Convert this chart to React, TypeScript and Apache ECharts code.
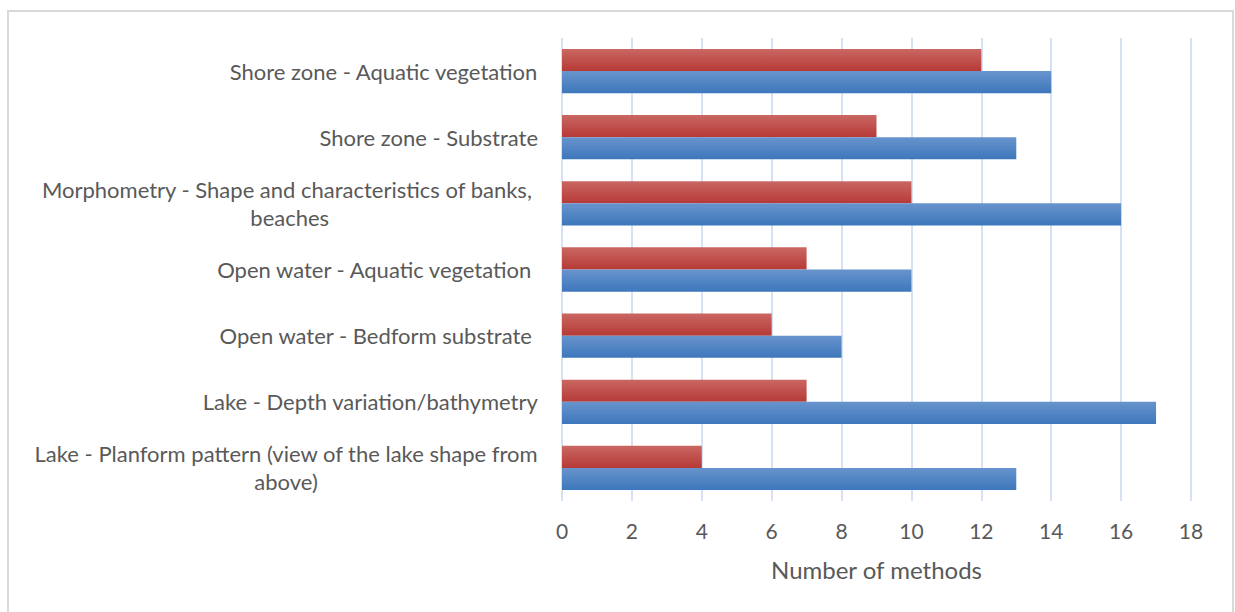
import React, { useEffect, useRef } from "react";
import * as echarts from "echarts";

const categories = [
  "Shore zone - Aquatic vegetation",
  "Shore zone - Substrate",
  "Morphometry - Shape and characteristics of banks, \nbeaches",
  "Open water - Aquatic vegetation ",
  "Open water - Bedform substrate ",
  "Lake - Depth variation/bathymetry",
  "Lake - Planform pattern (view of the lake shape from\nabove)",
];
const redValues = [12, 9, 10, 7, 6, 7, 4];
const blueValues = [14, 13, 16, 10, 8, 17, 13];
const xTicks = { min: 0, max: 18, interval: 2 };
const axisTitle = "Number of methods";

const FONT = "Lato, 'Open Sans', sans-serif";

export default function App() {
  const ref = useRef<HTMLDivElement>(null);
  useEffect(() => {
    if (!ref.current) return;
    const chart = echarts.init(ref.current, null, { renderer: "svg" });
    const grad = (a: string, b: string) =>
      new echarts.graphic.LinearGradient(0, 0, 0, 1, [
        { offset: 0, color: a },
        { offset: 1, color: b },
      ]);
    chart.setOption({
      animation: false,
      textStyle: { fontFamily: FONT },
      graphic: [
        {
          type: "rect",
          shape: { x: 8, y: 11, width: 1225, height: 640 },
          style: { fill: "none", stroke: "#d9d9d9", lineWidth: 2 },
          silent: true,
        },
      ],
      grid: { left: 562, right: 44, top: 38, bottom: 111, containLabel: false },
      xAxis: {
        type: "value",
        min: xTicks.min,
        max: xTicks.max,
        interval: xTicks.interval,
        name: axisTitle,
        nameLocation: "middle",
        nameGap: 56,
        nameTextStyle: { fontSize: 24, color: "#595959", fontFamily: FONT },
        axisLine: { show: false },
        axisTick: { show: false },
        axisLabel: { fontSize: 21, color: "#595959", margin: 19, fontFamily: FONT },
        splitLine: { show: true, lineStyle: { color: "#d6e2f3", width: 2 } },
      },
      yAxis: {
        type: "category",
        data: categories,
        inverse: true,
        axisLine: { show: false },
        axisTick: { show: false },
        axisLabel: {
          margin: 24,
          fontSize: 22,
          color: "#595959",
          fontFamily: FONT,
          lineHeight: 28,
          formatter: (v: string) =>
            v
              .split("\n")
              .map((l) => `{c|${l}}`)
              .join("\n"),
          rich: {
            c: { align: "center", fontSize: 22, color: "#595959", fontFamily: FONT, lineHeight: 28 },
          },
        },
      },
      series: [
        {
          name: "Series 2",
          type: "bar",
          data: redValues,
          barGap: "0%",
          barCategoryGap: "33%",
          itemStyle: { color: grad("#ca6763", "#b63a36") },
        },
        {
          name: "Series 1",
          type: "bar",
          data: blueValues,
          barGap: "0%",
          barCategoryGap: "33%",
          itemStyle: { color: grad("#6894cd", "#3d77bb") },
        },
      ],
    });
    return () => chart.dispose();
  }, []);
  return (
    <div
      ref={ref}
      style={{ position: "absolute", left: 0, top: 0, width: 1235, height: 612 }}
    />
  );
}
